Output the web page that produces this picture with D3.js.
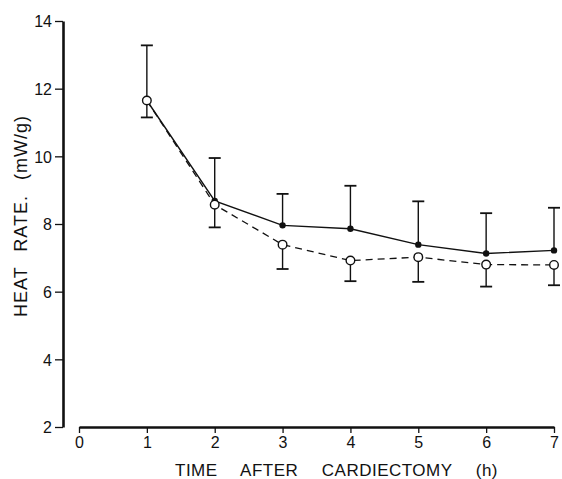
<!DOCTYPE html>
<html>
<head>
<meta charset="utf-8">
<script src="https://cdn.jsdelivr.net/npm/d3@7"></script>
<style>
  body { margin: 0; background: #fff; }
  svg text { font-family: "Liberation Sans", Arial, sans-serif; fill: #111; }
</style>
</head>
<body>
<div id="chart"></div>
<script>
// hours after cardiectomy
var hours = [1, 2, 3, 4, 5, 6, 7];
// filled circles, solid line (mean and upper SD end)
var solidMean = [11.65, 8.68, 7.96, 7.86, 7.39, 7.13, 7.22];
var solidUpper = [13.28, 9.95, 8.89, 9.13, 8.67, 8.32, 8.48];
// open circles, dashed line (mean and lower SD end)
var dashMean = [11.65, 8.57, 7.39, 6.92, 7.02, 6.80, 6.79];
var dashLower = [11.15, 7.90, 6.67, 6.31, 6.29, 6.15, 6.19];
var xTicks = [0, 1, 2, 3, 4, 5, 6, 7];
var yTicks = [2, 4, 6, 8, 10, 12, 14];

var W = 562, H = 479;
var svg = d3.select("#chart").append("svg")
  .attr("width", W).attr("height", H);

var x = d3.scaleLinear().domain([0, 7]).range([79, 554]);
var y = d3.scaleLinear().domain([2, 14]).range([427, 21]);

// y axis
var yAxis = d3.axisLeft(y).tickValues(yTicks).tickFormat(d3.format("d"))
  .tickSize(8).tickSizeOuter(0).tickPadding(3);
var gy = svg.append("g").attr("transform", "translate(63,0)").call(yAxis);
gy.select(".domain").attr("stroke-width", 2.6).attr("stroke", "#111");
gy.selectAll(".tick line").attr("stroke-width", 1.3).attr("stroke", "#111");
gy.selectAll(".tick text").style("font-size", "16px").attr("dy", "0.36em");

// x axis
var xAxis = d3.axisBottom(x).tickValues(xTicks).tickFormat(d3.format("d"))
  .tickSize(6).tickSizeOuter(0).tickPadding(4);
var gx = svg.append("g").attr("transform", "translate(0,427)").call(xAxis);
gx.select(".domain").attr("stroke-width", 2.6).attr("stroke", "#111");
gx.selectAll(".tick line").attr("stroke-width", 1.3).attr("stroke", "#111");
gx.selectAll(".tick text").style("font-size", "16px");

// spread words so the title spans the wanted length
function fitWords(t, len) {
  var n = t.text().split(" ").length - 1;
  var natural = t.node().getComputedTextLength();
  t.style("word-spacing", ((len - natural) / n) + "px");
}

var xt = svg.append("text")
  .attr("x", 175).attr("y", 476)
  .style("font-size", "17px")
  .style("letter-spacing", "0.5px")
  .text("TIME AFTER CARDIECTOMY (h)");
fitWords(xt, 323);

var yt = svg.append("text")
  .attr("transform", "translate(27,317) rotate(-90)")
  .style("font-size", "18px")
  .style("letter-spacing", "1px")
  .text("HEAT RATE. (mW/g)");
fitWords(yt, 202);

// error bars
var cap = 6;
function errBar(vals, ends) {
  var g = svg.append("g").attr("stroke", "#111").attr("stroke-width", 1.4);
  g.selectAll("line.v").data(hours).enter().append("line")
    .attr("x1", function(d) {return x(d);})
    .attr("x2", function(d) {return x(d);})
    .attr("y1", function(d, i) {return y(vals[i]);})
    .attr("y2", function(d, i) {return y(ends[i]);});
  g.selectAll("line.c").data(hours).enter().append("line")
    .attr("x1", function(d) {return x(d) - cap;})
    .attr("x2", function(d) {return x(d) + cap;})
    .attr("y1", function(d, i) {return y(ends[i]);})
    .attr("y2", function(d, i) {return y(ends[i]);})
    .attr("stroke-width", 1.8);
}
errBar(solidMean, solidUpper);
errBar(dashMean, dashLower);

var line = d3.line()
  .x(function(d) {return x(d[0]);})
  .y(function(d) {return y(d[1]);});

svg.append("path")
  .datum(hours.map(function(h, i) {return [h, dashMean[i]];}))
  .attr("d", line)
  .attr("fill", "none").attr("stroke", "#111")
  .attr("stroke-width", 1.3)
  .attr("stroke-dasharray", "7,5");

svg.append("path")
  .datum(hours.map(function(h, i) {return [h, solidMean[i]];}))
  .attr("d", line)
  .attr("fill", "none").attr("stroke", "#111")
  .attr("stroke-width", 1.4);

svg.selectAll(".dot").data(hours).enter().append("circle")
  .attr("class", "dot")
  .attr("cx", function(d) {return x(d);})
  .attr("cy", function(d, i) {return y(solidMean[i]);})
  .attr("r", 3.2)
  .attr("fill", "#111");

svg.selectAll(".odot").data(hours).enter().append("circle")
  .attr("class", "odot")
  .attr("cx", function(d) {return x(d);})
  .attr("cy", function(d, i) {return y(dashMean[i]);})
  .attr("r", 4.3)
  .attr("fill", "#fff")
  .attr("stroke", "#111")
  .attr("stroke-width", 1.4);
</script>
</body>
</html>
